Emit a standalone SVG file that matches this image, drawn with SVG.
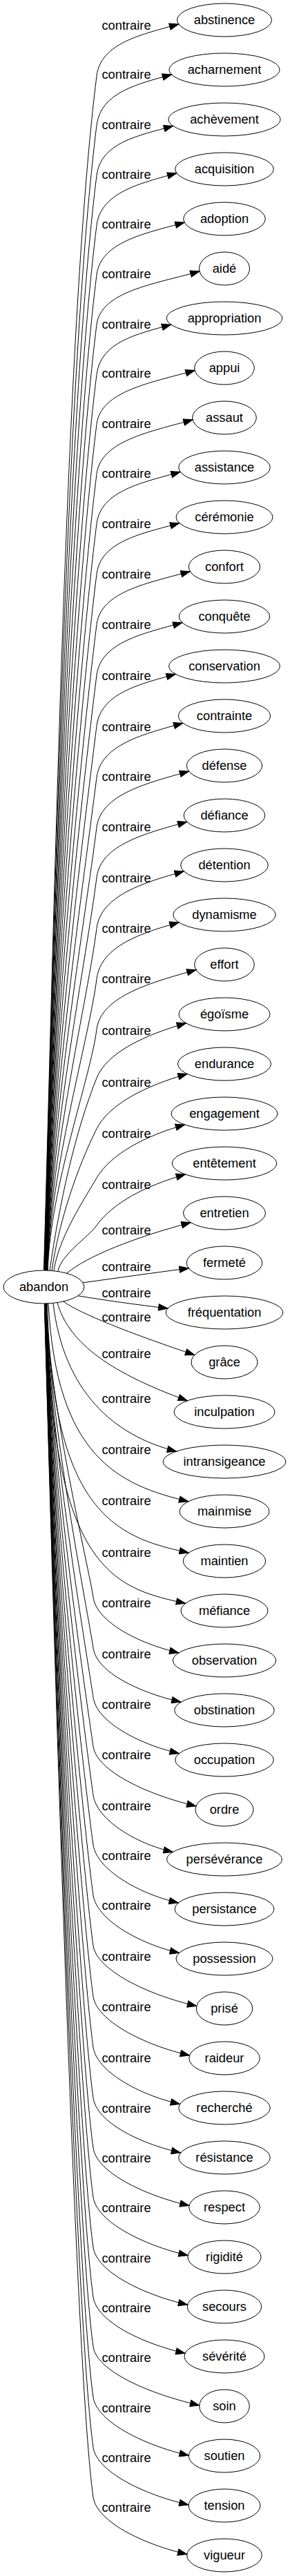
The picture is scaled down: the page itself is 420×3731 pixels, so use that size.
<svg xmlns="http://www.w3.org/2000/svg" width="420" height="3731" viewBox="0 0 420 3731">
<style>
.n ellipse{fill:none;stroke:#000;stroke-width:1}
text{font-family:"Liberation Sans",Arial,Helvetica,sans-serif;font-size:18.3px;text-anchor:middle;fill:#000}
.e path{fill:none;stroke:#000;stroke-width:1;marker-end:url(#ah)}
</style>
<defs>
<marker id="ah" markerUnits="userSpaceOnUse" markerWidth="16" markerHeight="12" refX="13.33" refY="5" orient="auto" style="overflow:visible">
<path d="M0,0.33 L13.33,5 L0,9.67 Z" fill="#000" stroke="#000" stroke-width="1"/>
</marker>
</defs>
<rect x="0" y="0" width="420" height="3731" fill="#fff"/>
<g id="edges" class="e">
<g id="e0"><path d="M63.5,1840 C80.8,1234.5 96.7,456 140,110 C146,62 205.3,50 258.7,35"/><text x="183" y="43">contraire</text></g>
<g id="e1"><path d="M63.8,1840 C80.4,1259.5 98.5,513.1 140,181.4 C146,133.4 199.7,121.7 248.5,108"/><text x="183" y="114.4">contraire</text></g>
<g id="e2"><path d="M64.1,1840 C80,1284.9 100.4,571.3 140,254.1 C146,206.1 200.8,196.4 250.6,182.5"/><text x="183" y="187.1">contraire</text></g>
<g id="e3"><path d="M64.4,1840 C79.5,1310.2 102.2,629 140,326.3 C146,278.3 203.7,265.4 255.8,250.8"/><text x="183" y="259.3">contraire</text></g>
<g id="e4"><path d="M64.7,1840 C79.1,1335.3 104,686.5 140,398.1 C146,350.1 209.9,338.2 267.1,322.2"/><text x="183" y="331.1">contraire</text></g>
<g id="e5"><path d="M65,1840 C78.7,1360.6 105.8,744.2 140,470.3 C146,422.3 221.9,411.8 289,393"/><text x="183" y="403.3">contraire</text></g>
<g id="e6"><path d="M65.3,1840 C78.3,1385.9 107.6,802 140,542.5 C146,494.5 199.2,483.8 247.7,470.2"/><text x="183" y="475.5">contraire</text></g>
<g id="e7"><path d="M65.6,1840 C77.9,1411 109.4,859.5 140,614.4 C146,566.4 218.2,554.4 282.2,536.5"/><text x="183" y="547.4">contraire</text></g>
<g id="e8"><path d="M65.9,1840 C77.4,1436.3 111.2,917.3 140,686.6 C146,638.6 216.5,625.5 279.1,608"/><text x="183" y="619.6">contraire</text></g>
<g id="e9"><path d="M66.2,1840 C77,1461.5 113,974.8 140,758.5 C146,710.5 206.7,698.8 261.2,683.5"/><text x="183" y="691.5">contraire</text></g>
<g id="e10"><path d="M66.5,1840 C76.6,1487 114.8,1033.2 140,831.5 C146,783.5 205.9,772.8 259.8,757.7"/><text x="183" y="764.5">contraire</text></g>
<g id="e11"><path d="M66.8,1840 C76.2,1512.6 116.6,1091.6 140,904.5 C146,856.5 214.4,844.6 275.3,827.6"/><text x="183" y="837.5">contraire</text></g>
<g id="e12"><path d="M67.1,1840 C75.7,1538.3 118.4,1150.4 140,978 C146,930 208.1,917.4 263.9,901.8"/><text x="183" y="911">contraire</text></g>
<g id="e13"><path d="M67.4,1840 C75.3,1564 120.3,1209.2 140,1051.5 C146,1003.5 202.9,990.8 254.3,976.4"/><text x="183" y="984.5">contraire</text></g>
<g id="e14"><path d="M67.7,1840 C74.8,1590.1 122.1,1268.8 140,1126 C146,1078 208.7,1063.1 264.9,1047.4"/><text x="183" y="1059">contraire</text></g>
<g id="e15"><path d="M68,1840 C74.4,1615.4 124,1326.6 140,1198.3 C146,1150.3 213.5,1134 273.6,1117.2"/><text x="183" y="1131.3">contraire</text></g>
<g id="e16"><path d="M68.3,1840 C74,1640.8 125.8,1384.7 140,1270.9 C146,1222.9 211.9,1206.8 270.8,1190.3"/><text x="183" y="1203.9">contraire</text></g>
<g id="e17"><path d="M68.6,1840 C73.6,1666.6 127.6,1443.6 140,1344.5 C146,1296.5 209.5,1277.9 266.3,1262"/><text x="183" y="1277.5">contraire</text></g>
<g id="e18"><path d="M68.9,1840 C73.1,1692.3 129.4,1502.3 140,1417.9 C146,1369.9 205.5,1351 259.1,1336"/><text x="183" y="1350.9">contraire</text></g>
<g id="e19"><path d="M69.2,1840 C72.7,1717.8 131.3,1560.7 140,1490.9 C146,1442.9 219.2,1422.8 284,1404.7"/><text x="183" y="1423.9">contraire</text></g>
<g id="e20"><path d="M72,1840.3 C86,1742.6 108.9,1639 140,1561.3 C154.9,1524.2 211.2,1498.3 269.5,1482"/><text x="183" y="1499.3">contraire</text></g>
<g id="e21"><path d="M75,1840.5 C85.3,1768.5 112.4,1690.1 140,1634.9 C157.9,1599.1 212.2,1572 271.2,1555.5"/><text x="183" y="1573.9">contraire</text></g>
<g id="e22"><path d="M78,1840.7 C84.7,1793.6 119.5,1740.9 140,1706.1 C160.3,1671.6 210.2,1645.1 267.6,1629"/><text x="183" y="1648.1">contraire</text></g>
<g id="e23"><path d="M84,1841.5 C87.3,1818.2 128.4,1791.2 140,1774.9 C163.2,1742.3 210.7,1717.2 268.5,1701"/><text x="183" y="1721.9">contraire</text></g>
<g id="e24"><path d="M96.7,1844.2 C125,1820 195,1792 276.2,1770.7"/><text x="183" y="1788.2">contraire</text></g>
<g id="e25"><path d="M120,1857.8 C170,1851 225,1843 273.3,1837"/><text x="183" y="1840.5">contraire</text></g>
<g id="e26"><path d="M113,1876.8 C150,1883 200,1890 243,1895"/><text x="183" y="1878.5">contraire</text></g>
<g id="e27"><path d="M91.7,1885 C120,1905 200,1935 281.8,1962.5"/><text x="183" y="1914.2">contraire</text></g>
<g id="e28"><path d="M83,1886.6 C98,1940 150,1985 271.4,2028.7"/><text x="183" y="1966.9">contraire</text></g>
<g id="e29"><path d="M77,1887.4 C92,2015 165,2080 255.6,2102"/><text x="183" y="2032">contraire</text></g>
<g id="e30"><path d="M70,1887.9 C82,2110 171.4,2150.7 272.8,2174.7"/><text x="183" y="2105.5">contraire</text></g>
<g id="e31"><path d="M68.5,1887.9 C76,2194.8 170.9,2227 273.3,2249"/><text x="183" y="2180">contraire</text></g>
<g id="e32"><path d="M67.5,1887.9 C73,2278.9 168,2300.3 268.6,2322.3"/><text x="183" y="2254.5">contraire</text></g>
<g id="e33"><path d="M67,1888 C71.3,2036.9 128.9,2270.9 135,2313.5 C140,2348.5 199.4,2380.2 258.9,2393.8"/><text x="183" y="2328">contraire</text></g>
<g id="e34"><path d="M66.85,1888 C71.9,2062.7 127.9,2337.1 135,2387 C140,2422 201,2451.2 262,2465.2"/><text x="183" y="2401.5">contraire</text></g>
<g id="e35"><path d="M66.7,1888 C72.4,2087.6 126.8,2401.4 135,2458.4 C140,2493.4 199.7,2525.9 259.4,2539.6"/><text x="183" y="2474.9">contraire</text></g>
<g id="e36"><path d="M66.55,1888 C73,2112.6 125.8,2465.4 135,2529.6 C140,2564.6 212.5,2599.4 284,2615.8"/><text x="183" y="2548.1">contraire</text></g>
<g id="e37"><path d="M66.4,1888 C73.5,2137.2 124.8,2528.8 135,2600 C140,2635 195,2669.7 250.3,2682.4"/><text x="183" y="2621.5">contraire</text></g>
<g id="e38"><path d="M66.25,1888 C74.1,2162.4 123.8,2593.6 135,2672 C140,2707 199.1,2742.4 258.3,2756"/><text x="183" y="2693.5">contraire</text></g>
<g id="e39"><path d="M66.1,1888 C74.7,2187.9 122.7,2659.1 135,2744.8 C140,2779.8 199.7,2814.8 259.5,2828.5"/><text x="183" y="2766.3">contraire</text></g>
<g id="e40"><path d="M65.95,1888 C75.3,2213.5 121.7,2725 135,2818 C140,2853 212.8,2889 284.7,2905.5"/><text x="183" y="2839.5">contraire</text></g>
<g id="e41"><path d="M65.8,1888 C75.8,2239.3 120.6,2791.2 135,2891.6 C140,2926.6 207.5,2961.7 274.5,2977"/><text x="183" y="2913.1">contraire</text></g>
<g id="e42"><path d="M65.65,1888 C76.5,2265 119.6,2857.3 135,2965 C140,3000 200.3,3033.7 260.5,3047.5"/><text x="183" y="2986.5">contraire</text></g>
<g id="e43"><path d="M65.5,1888 C77,2290.7 118.5,2923.4 135,3038.5 C140,3073.5 200.8,3104.1 261.6,3118"/><text x="183" y="3060">contraire</text></g>
<g id="e44"><path d="M65.35,1888 C77.6,2316 117.5,2988.6 135,3110.9 C140,3145.9 207.3,3179.2 274,3194.5"/><text x="183" y="3132.4">contraire</text></g>
<g id="e45"><path d="M65.2,1888 C78.1,2341 116.5,3052.9 135,3182.3 C140,3217.3 206.3,3251.6 272.2,3266.7"/><text x="183" y="3203.8">contraire</text></g>
<g id="e46"><path d="M65.05,1888 C78.7,2366.5 115.5,3118.3 135,3255 C140,3290 206.1,3323.2 271.7,3338.2"/><text x="183" y="3276.5">contraire</text></g>
<g id="e47"><path d="M64.9,1888 C79.3,2391.7 114.4,3183.1 135,3327 C140,3362 204.2,3393.8 268.1,3408.4"/><text x="183" y="3348.5">contraire</text></g>
<g id="e48"><path d="M64.75,1888 C79.9,2416.9 113.4,3247.9 135,3399 C140,3434 214.9,3466.9 288.7,3483.8"/><text x="183" y="3420.5">contraire</text></g>
<g id="e49"><path d="M64.6,1888 C80.4,2442.4 112.3,3313.6 135,3472 C140,3507 206.9,3541.2 273.3,3556.4"/><text x="183" y="3493.5">contraire</text></g>
<g id="e50"><path d="M64.45,1888 C81.1,2467.8 111.3,3378.9 135,3544.6 C140,3579.6 206.8,3612.7 273,3627.9"/><text x="183" y="3566.1">contraire</text></g>
<g id="e51"><path d="M64.3,1888 C81.6,2493.1 110.3,3443.9 135,3616.8 C140,3651.8 205.6,3684.6 270.8,3699.5"/><text x="183" y="3638.3">contraire</text></g>
</g>
<g id="abandon" class="n"><ellipse cx="63.5" cy="1864" rx="58.5" ry="24"/><text x="63.5" y="1870">abandon</text></g>
<g id="n0" class="n"><ellipse cx="325" cy="29" rx="68.5" ry="24"/><text x="325" y="35">abstinence</text></g>
<g id="n1" class="n"><ellipse cx="325" cy="101" rx="80" ry="24"/><text x="325" y="107">acharnement</text></g>
<g id="n2" class="n"><ellipse cx="325" cy="173" rx="81" ry="24"/><text x="325" y="179">achèvement</text></g>
<g id="n3" class="n"><ellipse cx="325" cy="245" rx="71.3" ry="24"/><text x="325" y="251">acquisition</text></g>
<g id="n4" class="n"><ellipse cx="325" cy="317" rx="59.3" ry="24"/><text x="325" y="323">adoption</text></g>
<g id="n5" class="n"><ellipse cx="325" cy="389" rx="36.5" ry="24"/><text x="325" y="395">aidé</text></g>
<g id="n6" class="n"><ellipse cx="325" cy="461" rx="83.7" ry="24"/><text x="325" y="467">appropriation</text></g>
<g id="n7" class="n"><ellipse cx="325" cy="533" rx="43.3" ry="24"/><text x="325" y="539">appui</text></g>
<g id="n8" class="n"><ellipse cx="325" cy="605" rx="46.3" ry="24"/><text x="325" y="611">assaut</text></g>
<g id="n9" class="n"><ellipse cx="325" cy="677" rx="66.3" ry="24"/><text x="325" y="683">assistance</text></g>
<g id="n10" class="n"><ellipse cx="325" cy="749" rx="70" ry="24"/><text x="325" y="755">cérémonie</text></g>
<g id="n11" class="n"><ellipse cx="325" cy="821" rx="51.7" ry="24"/><text x="325" y="827">confort</text></g>
<g id="n12" class="n"><ellipse cx="325" cy="893" rx="65.7" ry="24"/><text x="325" y="899">conquête</text></g>
<g id="n13" class="n"><ellipse cx="325" cy="965" rx="80.3" ry="24"/><text x="325" y="971">conservation</text></g>
<g id="n14" class="n"><ellipse cx="325" cy="1037" rx="66.7" ry="24"/><text x="325" y="1043">contrainte</text></g>
<g id="n15" class="n"><ellipse cx="325" cy="1109" rx="54.7" ry="24"/><text x="325" y="1115">défense</text></g>
<g id="n16" class="n"><ellipse cx="325" cy="1181" rx="58.8" ry="24"/><text x="325" y="1187">défiance</text></g>
<g id="n17" class="n"><ellipse cx="325" cy="1253" rx="63.3" ry="24"/><text x="325" y="1259">détention</text></g>
<g id="n18" class="n"><ellipse cx="325" cy="1325" rx="74.2" ry="24"/><text x="325" y="1331">dynamisme</text></g>
<g id="n19" class="n"><ellipse cx="325" cy="1397" rx="43.3" ry="24"/><text x="325" y="1403">effort</text></g>
<g id="n20" class="n"><ellipse cx="325" cy="1469" rx="66" ry="24"/><text x="325" y="1475">égoïsme</text></g>
<g id="n21" class="n"><ellipse cx="325" cy="1541" rx="67.5" ry="24"/><text x="325" y="1547">endurance</text></g>
<g id="n22" class="n"><ellipse cx="325" cy="1613" rx="77" ry="24"/><text x="325" y="1619">engagement</text></g>
<g id="n23" class="n"><ellipse cx="325" cy="1685" rx="75.8" ry="24"/><text x="325" y="1691">entêtement</text></g>
<g id="n24" class="n"><ellipse cx="325" cy="1757" rx="59.5" ry="24"/><text x="325" y="1763">entretien</text></g>
<g id="n25" class="n"><ellipse cx="325" cy="1829" rx="54.8" ry="24"/><text x="325" y="1835">fermeté</text></g>
<g id="n26" class="n"><ellipse cx="325" cy="1901" rx="84.7" ry="24"/><text x="325" y="1907">fréquentation</text></g>
<g id="n27" class="n"><ellipse cx="325" cy="1973" rx="48" ry="24"/><text x="325" y="1979">grâce</text></g>
<g id="n28" class="n"><ellipse cx="325" cy="2045" rx="73" ry="24"/><text x="325" y="2051">inculpation</text></g>
<g id="n29" class="n"><ellipse cx="325" cy="2117" rx="88.8" ry="24"/><text x="325" y="2123">intransigeance</text></g>
<g id="n30" class="n"><ellipse cx="325" cy="2189" rx="65" ry="24"/><text x="325" y="2195">mainmise</text></g>
<g id="n31" class="n"><ellipse cx="325" cy="2261" rx="59.7" ry="24"/><text x="325" y="2267">maintien</text></g>
<g id="n32" class="n"><ellipse cx="325" cy="2333" rx="63" ry="24"/><text x="325" y="2339">méfiance</text></g>
<g id="n33" class="n"><ellipse cx="325" cy="2405" rx="74.7" ry="24"/><text x="325" y="2411">observation</text></g>
<g id="n34" class="n"><ellipse cx="325" cy="2477" rx="72.3" ry="24"/><text x="325" y="2483">obstination</text></g>
<g id="n35" class="n"><ellipse cx="325" cy="2549" rx="71.3" ry="24"/><text x="325" y="2555">occupation</text></g>
<g id="n36" class="n"><ellipse cx="325" cy="2621" rx="42" ry="24"/><text x="325" y="2627">ordre</text></g>
<g id="n37" class="n"><ellipse cx="325" cy="2693" rx="83.3" ry="24"/><text x="325" y="2699">persévérance</text></g>
<g id="n38" class="n"><ellipse cx="325" cy="2765" rx="72" ry="24"/><text x="325" y="2771">persistance</text></g>
<g id="n39" class="n"><ellipse cx="325" cy="2837" rx="70" ry="24"/><text x="325" y="2843">possession</text></g>
<g id="n40" class="n"><ellipse cx="325" cy="2909" rx="40.7" ry="24"/><text x="325" y="2915">prisé</text></g>
<g id="n41" class="n"><ellipse cx="325" cy="2981" rx="51.2" ry="24"/><text x="325" y="2987">raideur</text></g>
<g id="n42" class="n"><ellipse cx="325" cy="3053" rx="66.3" ry="24"/><text x="325" y="3059">recherché</text></g>
<g id="n43" class="n"><ellipse cx="325" cy="3125" rx="66.3" ry="24"/><text x="325" y="3131">résistance</text></g>
<g id="n44" class="n"><ellipse cx="325" cy="3197" rx="51.3" ry="24"/><text x="325" y="3203">respect</text></g>
<g id="n45" class="n"><ellipse cx="325" cy="3269" rx="53" ry="24"/><text x="325" y="3275">rigidité</text></g>
<g id="n46" class="n"><ellipse cx="325" cy="3341" rx="53.7" ry="24"/><text x="325" y="3347">secours</text></g>
<g id="n47" class="n"><ellipse cx="325" cy="3413" rx="58" ry="24"/><text x="325" y="3419">sévérité</text></g>
<g id="n48" class="n"><ellipse cx="325" cy="3485" rx="36.3" ry="24"/><text x="325" y="3491">soin</text></g>
<g id="n49" class="n"><ellipse cx="325" cy="3557" rx="51.7" ry="24"/><text x="325" y="3563">soutien</text></g>
<g id="n50" class="n"><ellipse cx="325" cy="3629" rx="52" ry="24"/><text x="325" y="3635">tension</text></g>
<g id="n51" class="n"><ellipse cx="325" cy="3701" rx="54.3" ry="24"/><text x="325" y="3707">vigueur</text></g>
</svg>
